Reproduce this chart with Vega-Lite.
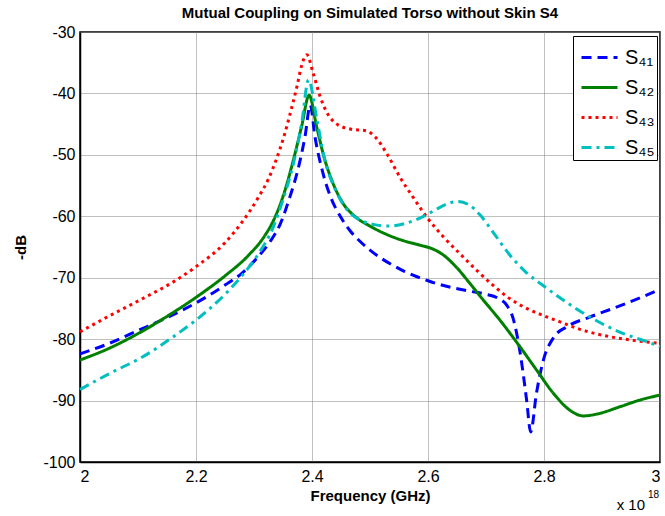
{
  "$schema": "https://vega.github.io/schema/vega-lite/v6.json",
  "width": 580,
  "height": 430,
  "autosize": {"type": "none"},
  "padding": {"left": 80, "top": 32, "right": 5, "bottom": 54},
  "background": "white",
  "title": {"text": "Mutual Coupling on Simulated Torso without Skin S4", "font": "Liberation Sans", "fontSize": 15, "fontWeight": "bold", "color": "black", "anchor": "middle", "offset": 3},
  "config": {
    "view": {"stroke": "black", "strokeWidth": 1.5},
    "axis": {"labelFont": "Liberation Sans", "labelFontSize": 16, "labelColor": "black", "titleFont": "Liberation Sans", "titleFontSize": 15, "titleFontWeight": "bold", "titleColor": "black", "domainColor": "black", "domainWidth": 1.5, "ticks": false, "gridColor": "#808080", "gridDash": [1, 1], "gridWidth": 1, "gridOpacity": 1}
  },
  "layer": [
    {
      "data": {"values": [
        {"f": 2.0, "dB": -82.4, "s": "S₄₁"}, {"f": 2.05, "dB": -80.7, "s": "S₄₁"}, {"f": 2.1, "dB": -78.6, "s": "S₄₁"}, {"f": 2.15, "dB": -76.5, "s": "S₄₁"}, {"f": 2.2, "dB": -74.1, "s": "S₄₁"}, {"f": 2.25, "dB": -71.2, "s": "S₄₁"}, {"f": 2.28, "dB": -69.2, "s": "S₄₁"}, {"f": 2.307, "dB": -66.6, "s": "S₄₁"}, {"f": 2.33, "dB": -63.8, "s": "S₄₁"}, {"f": 2.345, "dB": -61.3, "s": "S₄₁"}, {"f": 2.362, "dB": -56.8, "s": "S₄₁"}, {"f": 2.376, "dB": -52.3, "s": "S₄₁"}, {"f": 2.388, "dB": -47.0, "s": "S₄₁"}, {"f": 2.397, "dB": -41.9, "s": "S₄₁"}, {"f": 2.405, "dB": -47.0, "s": "S₄₁"}, {"f": 2.417, "dB": -52.3, "s": "S₄₁"}, {"f": 2.431, "dB": -56.6, "s": "S₄₁"}, {"f": 2.45, "dB": -60.2, "s": "S₄₁"}, {"f": 2.466, "dB": -62.4, "s": "S₄₁"}, {"f": 2.483, "dB": -64.1, "s": "S₄₁"}, {"f": 2.5, "dB": -65.5, "s": "S₄₁"}, {"f": 2.517, "dB": -66.7, "s": "S₄₁"}, {"f": 2.54, "dB": -68.0, "s": "S₄₁"}, {"f": 2.56, "dB": -69.0, "s": "S₄₁"}, {"f": 2.58, "dB": -69.8, "s": "S₄₁"}, {"f": 2.6, "dB": -70.5, "s": "S₄₁"}, {"f": 2.632, "dB": -71.4, "s": "S₄₁"}, {"f": 2.672, "dB": -72.2, "s": "S₄₁"}, {"f": 2.7, "dB": -72.7, "s": "S₄₁"}, {"f": 2.72, "dB": -73.3, "s": "S₄₁"}, {"f": 2.736, "dB": -74.5, "s": "S₄₁"}, {"f": 2.747, "dB": -76.7, "s": "S₄₁"}, {"f": 2.759, "dB": -82.3, "s": "S₄₁"}, {"f": 2.77, "dB": -89.9, "s": "S₄₁"}, {"f": 2.777, "dB": -95.1, "s": "S₄₁"}, {"f": 2.787, "dB": -88.8, "s": "S₄₁"}, {"f": 2.799, "dB": -83.4, "s": "S₄₁"}, {"f": 2.816, "dB": -79.8, "s": "S₄₁"}, {"f": 2.839, "dB": -78.0, "s": "S₄₁"}, {"f": 2.879, "dB": -76.4, "s": "S₄₁"}, {"f": 2.919, "dB": -75.0, "s": "S₄₁"}, {"f": 2.96, "dB": -73.5, "s": "S₄₁"}, {"f": 3.0, "dB": -71.9, "s": "S₄₁"},

        {"f": 2.0, "dB": -83.4, "s": "S₄₂"}, {"f": 2.05, "dB": -81.5, "s": "S₄₂"}, {"f": 2.1, "dB": -79.1, "s": "S₄₂"}, {"f": 2.15, "dB": -76.3, "s": "S₄₂"}, {"f": 2.2, "dB": -73.2, "s": "S₄₂"}, {"f": 2.25, "dB": -69.7, "s": "S₄₂"}, {"f": 2.29, "dB": -66.4, "s": "S₄₂"}, {"f": 2.319, "dB": -63.1, "s": "S₄₂"}, {"f": 2.335, "dB": -60.4, "s": "S₄₂"}, {"f": 2.351, "dB": -56.5, "s": "S₄₂"}, {"f": 2.368, "dB": -50.8, "s": "S₄₂"}, {"f": 2.382, "dB": -45.4, "s": "S₄₂"}, {"f": 2.395, "dB": -40.3, "s": "S₄₂"}, {"f": 2.408, "dB": -45.4, "s": "S₄₂"}, {"f": 2.42, "dB": -50.1, "s": "S₄₂"}, {"f": 2.437, "dB": -54.8, "s": "S₄₂"}, {"f": 2.455, "dB": -58.1, "s": "S₄₂"}, {"f": 2.475, "dB": -60.1, "s": "S₄₂"}, {"f": 2.5, "dB": -61.6, "s": "S₄₂"}, {"f": 2.525, "dB": -62.8, "s": "S₄₂"}, {"f": 2.552, "dB": -63.8, "s": "S₄₂"}, {"f": 2.586, "dB": -64.7, "s": "S₄₂"}, {"f": 2.605, "dB": -65.2, "s": "S₄₂"}, {"f": 2.625, "dB": -66.2, "s": "S₄₂"}, {"f": 2.649, "dB": -68.3, "s": "S₄₂"}, {"f": 2.672, "dB": -70.9, "s": "S₄₂"}, {"f": 2.695, "dB": -73.6, "s": "S₄₂"}, {"f": 2.724, "dB": -76.9, "s": "S₄₂"}, {"f": 2.759, "dB": -81.3, "s": "S₄₂"}, {"f": 2.787, "dB": -85.0, "s": "S₄₂"}, {"f": 2.816, "dB": -88.8, "s": "S₄₂"}, {"f": 2.845, "dB": -91.6, "s": "S₄₂"}, {"f": 2.868, "dB": -92.5, "s": "S₄₂"}, {"f": 2.891, "dB": -92.2, "s": "S₄₂"}, {"f": 2.931, "dB": -91.0, "s": "S₄₂"}, {"f": 2.966, "dB": -89.9, "s": "S₄₂"}, {"f": 3.0, "dB": -89.1, "s": "S₄₂"},

        {"f": 2.0, "dB": -78.8, "s": "S₄₃"}, {"f": 2.049, "dB": -76.3, "s": "S₄₃"}, {"f": 2.106, "dB": -73.5, "s": "S₄₃"}, {"f": 2.164, "dB": -70.5, "s": "S₄₃"}, {"f": 2.2, "dB": -68.2, "s": "S₄₃"}, {"f": 2.25, "dB": -64.3, "s": "S₄₃"}, {"f": 2.279, "dB": -61.0, "s": "S₄₃"}, {"f": 2.307, "dB": -57.0, "s": "S₄₃"}, {"f": 2.325, "dB": -53.9, "s": "S₄₃"}, {"f": 2.339, "dB": -50.6, "s": "S₄₃"}, {"f": 2.351, "dB": -47.2, "s": "S₄₃"}, {"f": 2.362, "dB": -43.4, "s": "S₄₃"}, {"f": 2.374, "dB": -38.9, "s": "S₄₃"}, {"f": 2.382, "dB": -35.5, "s": "S₄₃"}, {"f": 2.391, "dB": -33.7, "s": "S₄₃"}, {"f": 2.402, "dB": -36.7, "s": "S₄₃"}, {"f": 2.414, "dB": -40.5, "s": "S₄₃"}, {"f": 2.425, "dB": -43.0, "s": "S₄₃"}, {"f": 2.443, "dB": -45.0, "s": "S₄₃"}, {"f": 2.466, "dB": -45.8, "s": "S₄₃"}, {"f": 2.494, "dB": -46.1, "s": "S₄₃"}, {"f": 2.509, "dB": -47.1, "s": "S₄₃"}, {"f": 2.529, "dB": -49.8, "s": "S₄₃"}, {"f": 2.552, "dB": -53.7, "s": "S₄₃"}, {"f": 2.575, "dB": -57.0, "s": "S₄₃"}, {"f": 2.6, "dB": -60.4, "s": "S₄₃"}, {"f": 2.626, "dB": -63.3, "s": "S₄₃"}, {"f": 2.655, "dB": -66.1, "s": "S₄₃"}, {"f": 2.684, "dB": -68.8, "s": "S₄₃"}, {"f": 2.713, "dB": -71.3, "s": "S₄₃"}, {"f": 2.741, "dB": -73.4, "s": "S₄₃"}, {"f": 2.77, "dB": -75.0, "s": "S₄₃"}, {"f": 2.8, "dB": -76.2, "s": "S₄₃"}, {"f": 2.828, "dB": -77.2, "s": "S₄₃"}, {"f": 2.862, "dB": -78.4, "s": "S₄₃"}, {"f": 2.908, "dB": -79.5, "s": "S₄₃"}, {"f": 2.954, "dB": -80.2, "s": "S₄₃"}, {"f": 3.0, "dB": -80.7, "s": "S₄₃"},

        {"f": 2.0, "dB": -88.2, "s": "S₄₅"}, {"f": 2.025, "dB": -86.9, "s": "S₄₅"}, {"f": 2.055, "dB": -85.4, "s": "S₄₅"}, {"f": 2.106, "dB": -83.0, "s": "S₄₅"}, {"f": 2.164, "dB": -79.4, "s": "S₄₅"}, {"f": 2.2, "dB": -76.9, "s": "S₄₅"}, {"f": 2.25, "dB": -72.7, "s": "S₄₅"}, {"f": 2.279, "dB": -69.7, "s": "S₄₅"}, {"f": 2.307, "dB": -66.2, "s": "S₄₅"}, {"f": 2.333, "dB": -61.8, "s": "S₄₅"}, {"f": 2.351, "dB": -57.0, "s": "S₄₅"}, {"f": 2.368, "dB": -51.4, "s": "S₄₅"}, {"f": 2.382, "dB": -45.0, "s": "S₄₅"}, {"f": 2.394, "dB": -37.8, "s": "S₄₅"}, {"f": 2.408, "dB": -44.0, "s": "S₄₅"}, {"f": 2.42, "dB": -50.0, "s": "S₄₅"}, {"f": 2.443, "dB": -56.2, "s": "S₄₅"}, {"f": 2.466, "dB": -59.5, "s": "S₄₅"}, {"f": 2.485, "dB": -60.7, "s": "S₄₅"}, {"f": 2.51, "dB": -61.4, "s": "S₄₅"}, {"f": 2.534, "dB": -61.6, "s": "S₄₅"}, {"f": 2.563, "dB": -61.1, "s": "S₄₅"}, {"f": 2.586, "dB": -60.3, "s": "S₄₅"}, {"f": 2.61, "dB": -59.1, "s": "S₄₅"}, {"f": 2.63, "dB": -58.1, "s": "S₄₅"}, {"f": 2.65, "dB": -57.6, "s": "S₄₅"}, {"f": 2.67, "dB": -58.1, "s": "S₄₅"}, {"f": 2.69, "dB": -59.8, "s": "S₄₅"}, {"f": 2.713, "dB": -62.7, "s": "S₄₅"}, {"f": 2.741, "dB": -66.3, "s": "S₄₅"}, {"f": 2.77, "dB": -69.2, "s": "S₄₅"}, {"f": 2.799, "dB": -71.3, "s": "S₄₅"}, {"f": 2.828, "dB": -73.3, "s": "S₄₅"}, {"f": 2.879, "dB": -76.4, "s": "S₄₅"}, {"f": 2.937, "dB": -79.1, "s": "S₄₅"}, {"f": 2.977, "dB": -80.4, "s": "S₄₅"}, {"f": 3.0, "dB": -81.2, "s": "S₄₅"}
      ]},
      "mark": {"type": "line", "strokeWidth": 3, "interpolate": "monotone", "strokeCap": "butt"},
      "encoding": {
        "x": {"field": "f", "type": "quantitative", "scale": {"domain": [2, 3], "nice": false, "zero": false}, "axis": {"title": "Frequency (GHz)", "values": [2, 2.2, 2.4, 2.6, 2.8, 3], "format": "~g", "labelPadding": 6, "titlePadding": 4}},
        "y": {"field": "dB", "type": "quantitative", "scale": {"domain": [-100, -30], "nice": false, "zero": false}, "axis": {"title": "-dB", "values": [-100, -90, -80, -70, -60, -50, -40, -30], "labelExpr": "'' + datum.value", "labelPadding": 5, "titlePadding": 14}},
        "color": {"field": "s", "type": "nominal", "scale": {"domain": ["S₄₁", "S₄₂", "S₄₃", "S₄₅"], "range": ["#0000FF", "#008000", "#FF0000", "#00BFBF"]}, "legend": {"title": null, "orient": "none", "legendX": 493, "legendY": 4, "symbolType": "stroke", "symbolSize": 1296, "symbolStrokeWidth": 3, "symbolOffset": 5, "labelFont": "Liberation Sans", "labelFontSize": 20, "labelColor": "black", "labelOffset": 6, "rowPadding": -6, "strokeColor": "black", "fillColor": "white", "padding": 2}},
        "strokeDash": {"field": "s", "type": "nominal", "scale": {"domain": ["S₄₁", "S₄₂", "S₄₃", "S₄₅"], "range": [[10, 6], [1, 0], [3, 4], [10, 5, 3, 5]]}, "legend": null}
      }
    },
    {
      "data": {"values": [{"f": 3, "dB": -100, "t": "x 10"}]},
      "mark": {"type": "text", "align": "right", "baseline": "alphabetic", "dx": -15, "dy": 48, "font": "Liberation Sans", "fontSize": 15, "color": "black"},
      "encoding": {"x": {"field": "f", "type": "quantitative"}, "y": {"field": "dB", "type": "quantitative"}, "text": {"field": "t"}}
    },
    {
      "data": {"values": [{"f": 3, "dB": -100, "t": "18"}]},
      "mark": {"type": "text", "align": "right", "baseline": "alphabetic", "dx": -1, "dy": 36, "font": "Liberation Sans", "fontSize": 10, "color": "black"},
      "encoding": {"x": {"field": "f", "type": "quantitative"}, "y": {"field": "dB", "type": "quantitative"}, "text": {"field": "t"}}
    }
  ]
}
